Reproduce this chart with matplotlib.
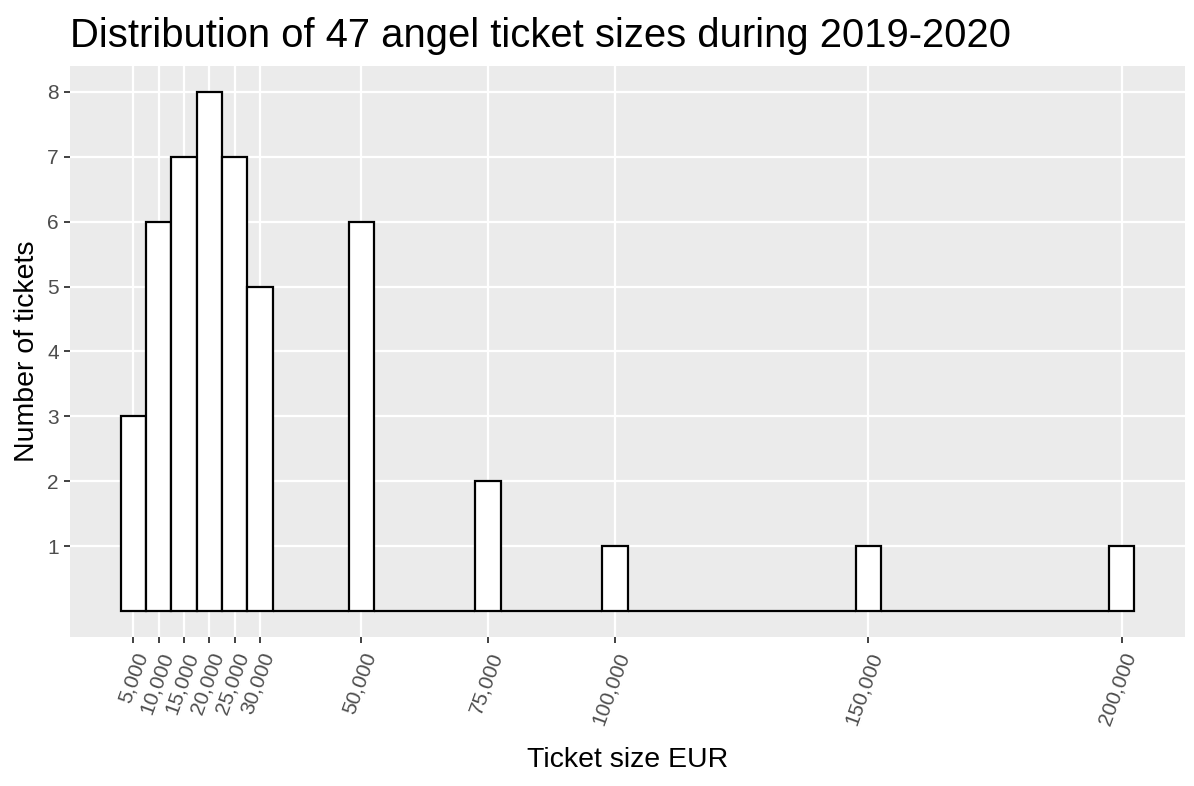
import numpy as np
import matplotlib.pyplot as plt

plt.rcParams['font.family'] = ['Liberation Sans', 'DejaVu Sans']

# histogram of ticket sizes, bin width 5,000 EUR
ticket_sizes = [5000, 10000, 15000, 20000, 25000, 30000, 50000, 75000, 100000, 150000, 200000]
ticket_counts = [3, 6, 7, 8, 7, 5, 6, 2, 1, 1, 1]
bin_width = 5000
x_ticks = [5000, 10000, 15000, 20000, 25000, 30000, 50000, 75000, 100000, 150000, 200000]
y_ticks = [1, 2, 3, 4, 5, 6, 7, 8]

# all bins between min and max, empty ones get zero height (drawn as flat line)
centers = np.arange(min(ticket_sizes), max(ticket_sizes) + bin_width, bin_width)
lookup = dict(zip(ticket_sizes, ticket_counts))
heights = [lookup.get(c, 0) for c in centers]

fig = plt.figure(figsize=(11.94, 7.86), dpi=100)
ax = fig.add_axes([0.0586, 0.1896, 0.9339, 0.7264])
ax.set_facecolor('#EBEBEB')

ax.bar(centers, heights, width=bin_width, color='white', edgecolor='black',
       linewidth=1.6, zorder=3)

lo = centers[0] - bin_width / 2
hi = centers[-1] + bin_width / 2
pad = (hi - lo) * 0.05
ax.set_xlim(lo - pad, hi + pad)
ax.set_ylim(-0.4, 8.4)

ax.set_xticks(x_ticks)
ax.set_xticklabels([f'{v:,}' for v in x_ticks], rotation=70, ha='right',
                   va='top', rotation_mode='anchor')
ax.set_yticks(y_ticks)

ax.grid(True, color='white', linewidth=1.6, zorder=0)
ax.set_axisbelow(True)
for s in ax.spines.values():
    s.set_visible(False)

ax.tick_params(axis='both', colors='#333333', labelcolor='#4D4D4D',
               labelsize=15, length=4, width=1.3)
ax.tick_params(axis='x', pad=5)
ax.tick_params(axis='y', pad=4)

ax.set_xlabel('Ticket size EUR', fontsize=20.5, labelpad=14)
ax.set_ylabel('Number of tickets', fontsize=20.5, labelpad=5)
fig.text(0.0586, 0.940, 'Distribution of 47 angel ticket sizes during 2019-2020',
         fontsize=28.8, va='baseline', ha='left')

fig.savefig('out.png', dpi=100)
